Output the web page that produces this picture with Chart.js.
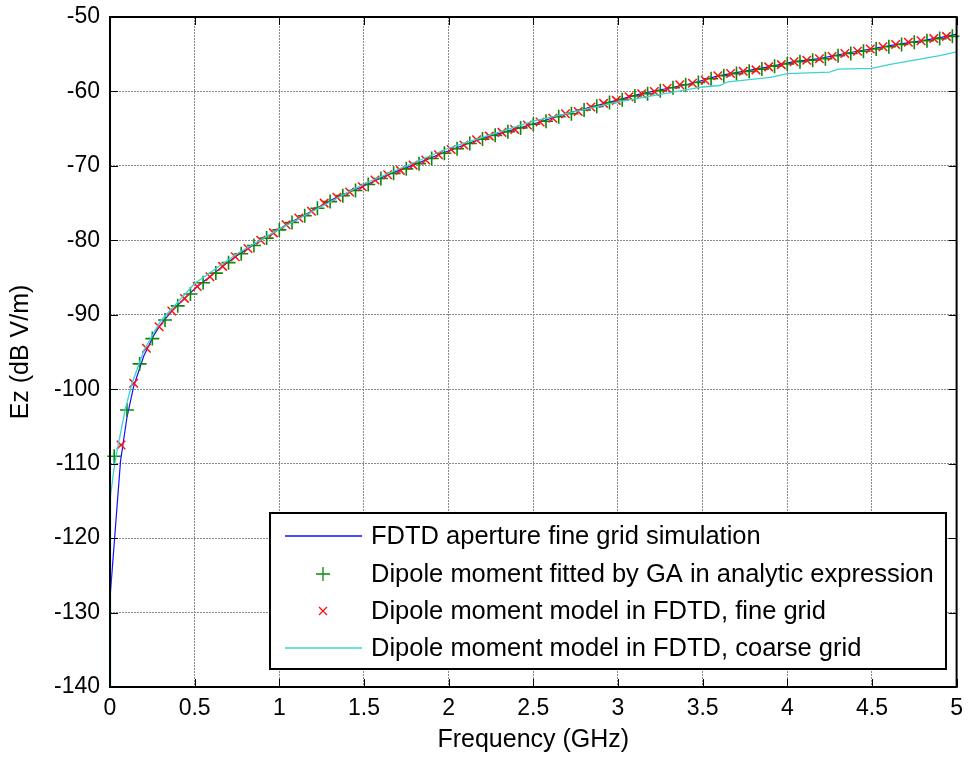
<!DOCTYPE html>
<html>
<head>
<meta charset="utf-8">
<script src="https://cdn.jsdelivr.net/npm/chart.js@4/dist/chart.umd.min.js"></script>
<style>
  html, body { margin: 0; padding: 0; background: #fff; }
  canvas { display: block; }
</style>
</head>
<body>
<canvas id="c" width="971" height="760"></canvas>
<script>
// ---- data ----
const LABELS = [
  "FDTD aperture fine grid simulation",
  "Dipole moment fitted by GA in analytic expression",
  "Dipole moment model in FDTD, fine grid",
  "Dipole moment model in FDTD, coarse grid",
];

// FDTD aperture fine grid (blue line)
const fineFreq = [0, 0.002, 0.062, 0.1, 0.14, 0.2, 0.26, 0.3, 0.365, 0.44, 0.515, 0.59, 0.665,
  0.74, 0.815, 0.89, 0.965, 1.04, 1.19, 1.34, 1.49, 1.64, 1.79, 1.94, 2.09, 2.24, 2.39, 2.54,
  2.69, 2.84, 2.99, 3.14, 3.29, 3.44, 3.59, 3.74, 3.89, 4.04, 4.19, 4.34, 4.49, 4.64, 4.79, 4.94, 5.0];
const fineEz = [-145, -127.5, -109.7, -103.8, -99.6, -95.5, -92.7, -91.3, -89.5, -87.8, -86.2, -84.9, -83.5,
  -82.2, -81.1, -80.0, -79.0, -77.9, -76.1, -74.2, -72.8, -71.2, -69.9, -68.5, -67.2, -66.0, -65.1, -64.1,
  -63.0, -62.1, -61.2, -60.3, -59.6, -58.9, -57.9, -57.3, -56.7, -56.0, -55.6, -54.9, -54.3, -53.7, -53.2, -52.6, -52.3];

// GA fitted dipole (green +)
const gaFreq = [0.025, 0.1, 0.175, 0.25, 0.325, 0.4, 0.475, 0.55, 0.625, 0.7, 0.775, 0.85, 0.925, 1.0,
  1.075, 1.15, 1.225, 1.3, 1.375, 1.45, 1.525, 1.6, 1.675, 1.75, 1.825, 1.9, 1.975, 2.05, 2.125, 2.2,
  2.275, 2.35, 2.425, 2.5, 2.575, 2.65, 2.725, 2.8, 2.875, 2.95, 3.025, 3.1, 3.175, 3.25, 3.325, 3.4,
  3.475, 3.55, 3.625, 3.7, 3.775, 3.85, 3.925, 4.0, 4.075, 4.15, 4.225, 4.3, 4.375, 4.45, 4.525, 4.6,
  4.675, 4.75, 4.825, 4.9, 4.975];
const gaEz = [-109.0, -102.8, -96.6, -93.2, -90.7, -88.8, -87.2, -85.7, -84.4, -83.0, -81.8, -80.7, -79.7, -78.6,
  -77.6, -76.7, -75.7, -74.8, -74.0, -73.3, -72.5, -71.7, -71.0, -70.4, -69.7, -69.0, -68.3, -67.7, -67.0, -66.4,
  -65.9, -65.4, -64.9, -64.4, -64.0, -63.4, -63.0, -62.5, -62.0, -61.5, -61.1, -60.6, -60.3, -59.9, -59.5, -59.1,
  -58.8, -58.3, -57.9, -57.6, -57.3, -57.0, -56.6, -56.3, -56.0, -55.8, -55.6, -55.2, -54.9, -54.6, -54.3, -54.0,
  -53.7, -53.4, -53.2, -52.9, -52.6];

// dipole model, fine grid (red x)
const dipFreq = [0.065, 0.14, 0.215, 0.29, 0.365, 0.44, 0.515, 0.59, 0.665, 0.74, 0.815, 0.89, 0.965,
  1.04, 1.115, 1.19, 1.265, 1.34, 1.415, 1.49, 1.565, 1.64, 1.715, 1.79, 1.865, 1.94, 2.015, 2.09,
  2.165, 2.24, 2.315, 2.39, 2.465, 2.54, 2.615, 2.69, 2.765, 2.84, 2.915, 2.99, 3.065, 3.14, 3.215,
  3.29, 3.365, 3.44, 3.515, 3.59, 3.665, 3.74, 3.815, 3.89, 3.965, 4.04, 4.115, 4.19, 4.265, 4.34,
  4.415, 4.49, 4.565, 4.64, 4.715, 4.79, 4.865, 4.94];
const dipEz = [-107.5, -99.2, -94.5, -91.6, -89.5, -87.8, -86.2, -84.9, -83.5, -82.2, -81.1, -80.0, -79.0,
  -77.9, -77.0, -76.1, -75.0, -74.2, -73.5, -72.8, -71.9, -71.2, -70.6, -69.9, -69.2, -68.5, -67.8, -67.2,
  -66.5, -66.0, -65.5, -65.1, -64.5, -64.1, -63.6, -63.0, -62.7, -62.1, -61.6, -61.2, -60.7, -60.3, -60.0,
  -59.6, -59.1, -58.9, -58.5, -57.9, -57.6, -57.3, -57.1, -56.7, -56.4, -56.0, -55.8, -55.6, -55.3, -54.9,
  -54.6, -54.3, -54.0, -53.7, -53.4, -53.2, -52.9, -52.6];

// dipole model, coarse grid (cyan line)
const coarseFreq = [0, 0.003, 0.022, 0.042, 0.091, 0.13, 0.2, 0.3, 0.5, 0.75, 1.0, 1.5, 2.0, 2.5, 3.0,
  3.2, 3.4, 3.5, 3.6, 3.65, 3.9, 4.0, 4.25, 4.3, 4.5, 4.6, 4.75, 4.9, 5.0];
const coarseEz = [-145, -114.4, -110.9, -108.2, -102.6, -99.2, -94.8, -90.8, -85.8, -81.8, -78.5, -72.4, -67.6,
  -64.0, -61.4, -60.6, -59.8, -59.4, -59.2, -58.7, -58.1, -57.6, -57.4, -57.0, -56.9, -56.4, -55.8, -55.2, -54.7];

const xTicks = [0, 0.5, 1, 1.5, 2, 2.5, 3, 3.5, 4, 4.5, 5];
const yTicks = [-140, -130, -120, -110, -100, -90, -80, -70, -60, -50];

const FONT = "'Liberation Sans', Arial, Helvetica, sans-serif";
const pts = (xs, ys) => xs.map((x, i) => ({ x, y: ys[i] }));

// MATLAB-like frame: box, inward ticks and the boxed legend
const matlabFrame = {
  id: "matlabFrame",
  afterDraw(chart) {
    const { ctx, chartArea: a, scales: { x, y } } = chart;
    const tl = 8;
    ctx.save();
    ctx.strokeStyle = "#000";
    ctx.lineWidth = 1;
    ctx.beginPath();
    xTicks.forEach(v => {
      const px = Math.round(x.getPixelForValue(v)) + 0.5;
      ctx.moveTo(px, a.bottom); ctx.lineTo(px, a.bottom - tl);
      ctx.moveTo(px, a.top); ctx.lineTo(px, a.top + tl);
    });
    yTicks.forEach(v => {
      const py = Math.round(y.getPixelForValue(v)) + 0.5;
      ctx.moveTo(a.left, py); ctx.lineTo(a.left + tl, py);
      ctx.moveTo(a.right, py); ctx.lineTo(a.right - tl, py);
    });
    ctx.stroke();
    ctx.lineWidth = 2;
    ctx.strokeRect(a.left, a.top, a.right - a.left, a.bottom - a.top);

    // legend
    const L = { x: 270, y: 513, w: 676, h: 156 };
    ctx.fillStyle = "#fff";
    ctx.fillRect(L.x, L.y, L.w, L.h);
    ctx.lineWidth = 2;
    ctx.strokeStyle = "#000";
    ctx.strokeRect(L.x, L.y, L.w, L.h);
    const rows = [536, 574, 611, 648];
    ctx.font = "25.5px " + FONT;
    ctx.textBaseline = "middle";
    chart.data.datasets.forEach((ds, i) => {
      const ry = rows[i];
      const cx = 323;
      ctx.strokeStyle = ds.borderColor;
      ctx.lineWidth = 1.3;
      ctx.beginPath();
      if (ds.showLine) {
        ctx.moveTo(285, ry); ctx.lineTo(362, ry);
      } else if (ds.pointStyle === "cross") {
        ctx.moveTo(cx - 7, ry); ctx.lineTo(cx + 7, ry);
        ctx.moveTo(cx, ry - 7); ctx.lineTo(cx, ry + 7);
      } else {
        ctx.moveTo(cx - 4, ry - 4); ctx.lineTo(cx + 4, ry + 4);
        ctx.moveTo(cx - 4, ry + 4); ctx.lineTo(cx + 4, ry - 4);
      }
      ctx.stroke();
      ctx.fillStyle = "#000";
      ctx.fillText(ds.label, 371, ry + 1);
    });
    ctx.restore();
  }
};

new Chart(document.getElementById("c"), {
  type: "line",
  data: {
    datasets: [
      { label: LABELS[0], data: pts(fineFreq, fineEz), showLine: true, borderColor: "#1010ff",
        borderWidth: 1.2, pointRadius: 0, order: 4, clip: 0 },
      { label: LABELS[1], data: pts(gaFreq, gaEz), showLine: false, borderColor: "#0a880a",
        pointStyle: "cross", pointRadius: 7, pointBorderWidth: 1.6, order: 3, clip: false },
      { label: LABELS[2], data: pts(dipFreq, dipEz), showLine: false, borderColor: "#ff1010",
        pointStyle: "crossRot", pointRadius: 6, pointBorderWidth: 1.5, order: 2, clip: false },
      { label: LABELS[3], data: pts(coarseFreq, coarseEz), showLine: true, borderColor: "#3cd2d2",
        borderWidth: 1.3, pointRadius: 0, order: 1, clip: 0 },
    ]
  },
  options: {
    responsive: false,
    animation: false,
    devicePixelRatio: 1,
    layout: { padding: { top: 17, right: 14, left: 0, bottom: 0 } },
    plugins: { legend: { display: false }, tooltip: { enabled: false } },
    scales: {
      x: {
        type: "linear", min: 0, max: 5,
        afterBuildTicks: s => { s.ticks = xTicks.map(v => ({ value: v })); },
        afterFit: s => { s.height = 73; },
        ticks: { color: "#000", font: { family: FONT, size: 23 }, padding: 8, maxRotation: 0,
          callback: v => String(v) },
        grid: { color: "#8a8a8a", lineWidth: 1, drawTicks: false },
        border: { display: false, dash: [2, 1] },
        title: { display: true, text: "Frequency (GHz)", color: "#000",
          font: { family: FONT, size: 25 }, padding: { top: 0, bottom: 5 } }
      },
      y: {
        type: "linear", min: -140, max: -50,
        afterBuildTicks: s => { s.ticks = yTicks.map(v => ({ value: v })); },
        afterFit: s => { s.width = 110; s.paddingTop = 0; s.paddingBottom = 0; },
        ticks: { color: "#000", font: { family: FONT, size: 23 }, padding: 10,
          callback: v => String(v) },
        grid: { color: "#8a8a8a", lineWidth: 1, drawTicks: false },
        border: { display: false, dash: [2, 1] },
        title: { display: true, text: "Ez (dB V/m)", color: "#000",
          font: { family: FONT, size: 25 }, padding: { top: 6, bottom: 0 } }
      }
    }
  },
  plugins: [matlabFrame]
});
</script>
</body>
</html>
